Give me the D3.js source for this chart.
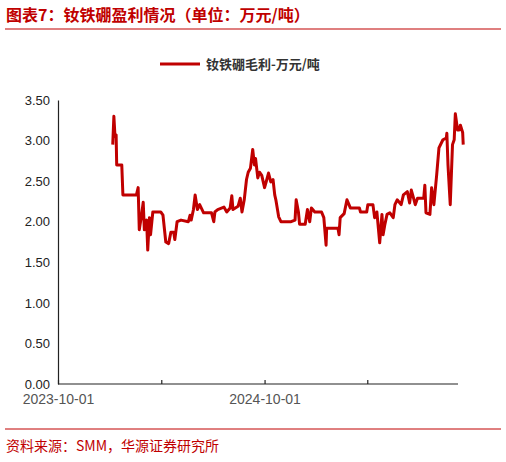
<!DOCTYPE html>
<html><head><meta charset="utf-8">
<script src="https://cdn.jsdelivr.net/npm/d3@7"></script>
<style>body{margin:0;background:#fff}svg{display:block}</style>
</head><body>
<svg id="c" width="506" height="462"></svg>
<script>
const startDate = "2023-10-01";
const dayOffsets = [97,99,101,103,104,113,115,139,142,144,148,151,153,157,159,162,164,168,182,186,191,196,200,205,207,211,218,231,234,236,240,243,247,251,258,272,276,278,283,294,299,305,308,310,319,323,326,330,334,337,341,345,348,350,354,357,361,366,370,373,377,381,384,386,391,395,399,413,420,422,426,428,438,442,446,449,455,467,471,475,476,496,498,500,507,512,518,534,536,547,549,558,561,565,570,574,576,579,583,588,594,597,601,608,612,619,623,626,630,633,637,648,650,652,659,662,666,671,675,682,688,689,691,695,699,702,704,708,711,713,717,718];
const values = [2.95,3.30,3.05,3.07,2.70,2.70,2.33,2.33,2.42,1.90,2.08,2.24,1.90,2.02,1.65,2.05,1.84,2.12,2.12,2.08,1.75,1.73,1.87,1.87,1.78,2.00,2.02,2.00,2.08,2.02,2.15,2.33,2.15,2.21,2.11,2.11,2.00,2.12,2.15,2.18,2.12,2.17,2.32,2.15,2.19,2.29,2.12,2.27,2.52,2.61,2.66,2.89,2.70,2.78,2.54,2.61,2.57,2.42,2.52,2.60,2.49,2.52,2.33,2.27,2.06,2.00,2.00,2.00,2.02,2.27,2.12,1.97,1.97,2.15,2.00,2.17,2.12,2.12,2.05,1.71,1.92,1.92,1.84,2.05,2.10,2.27,2.17,2.17,2.12,2.12,2.21,2.21,2.05,2.12,1.74,2.09,1.84,1.96,2.09,2.11,2.05,2.21,2.27,2.21,2.33,2.37,2.23,2.39,2.29,2.21,2.29,2.29,2.45,2.11,2.09,2.42,2.21,2.58,2.91,3.01,3.03,3.09,2.70,2.21,2.95,3.01,3.33,3.13,3.13,3.19,3.10,2.95];
const yTicks = [0,0.5,1,1.5,2,2.5,3,3.5];
const xTickDates = ["2023-10-01","2024-04-01","2024-10-01","2025-04-01"];
const xLabelDates = ["2023-10-01","2024-10-01"];
const seriesName = "钕铁硼毛利-万元/吨";
const titleText = "图表7：钕铁硼盈利情况（单位：万元/吨）";
const sourceText = "资料来源：SMM，华源证券研究所";

const red = "#c00000";
const svg = d3.select("#c");
const parse = d3.utcParse("%Y-%m-%d");
const t0 = parse(startDate);
const data = dayOffsets.map((d,i)=>({date:d3.utcDay.offset(t0,d), v:values[i]}));

const x = d3.scaleUtc().domain([t0, d3.utcDay.offset(t0,730)]).range([58,470]);
const y = d3.scaleLinear().domain([0,3.5]).range([384,100]);
const font = "'Liberation Sans', Arial, sans-serif";

svg.append("text").attr("x",6).attr("y",21).attr("fill",red)
  .attr("font-family","'Noto Sans CJK SC'").attr("font-weight","bold").attr("font-size",16).text(titleText);
svg.append("line").attr("x1",5).attr("x2",501).attr("y1",29).attr("y2",29).attr("stroke",red).attr("stroke-width",1.2);
svg.append("line").attr("x1",5).attr("x2",501).attr("y1",429).attr("y2",429).attr("stroke",red).attr("stroke-width",1);
svg.append("text").attr("x",6).attr("y",451).attr("fill",red)
  .attr("font-family","'Noto Sans CJK SC'").attr("font-size",14).text(sourceText);

svg.append("line").attr("x1",160).attr("x2",200).attr("y1",64).attr("y2",64).attr("stroke",red).attr("stroke-width",3);
svg.append("text").attr("x",206).attr("y",69).attr("fill","#333").attr("font-family","'Noto Sans CJK SC'")
  .attr("font-weight","bold").attr("font-size",13).text(seriesName);

const ya = svg.append("g").attr("transform","translate(58,0)")
  .call(d3.axisLeft(y).tickValues(yTicks).tickFormat(d3.format(".2f")).tickSize(0).tickPadding(8));
ya.select(".domain").attr("stroke","#222").attr("stroke-width",1.2);
ya.selectAll("text").attr("font-family",font).attr("font-size",13).attr("fill","#222");

const xa = svg.append("g").attr("transform","translate(0,384)")
  .call(d3.axisBottom(x).tickValues(xTickDates.map(parse)).tickSizeInner(-4).tickSizeOuter(0)
    .tickFormat(d=>xLabelDates.includes(d3.utcFormat("%Y-%m-%d")(d))?d3.utcFormat("%Y-%m-%d")(d):""));
xa.select(".domain").attr("stroke","#222").attr("stroke-width",1.2).attr("d","M58,0H458");
xa.selectAll(".tick line").attr("stroke","#222").attr("stroke-width",1.2);
xa.selectAll("text").attr("font-family",font).attr("font-size",14).attr("fill","#555").attr("dy","1.2em");

svg.append("path").datum(data).attr("fill","none").attr("stroke",red).attr("stroke-width",3)
  .attr("stroke-linejoin","round")
  .attr("d", d3.line().x(d=>x(d.date)).y(d=>y(d.v)));
</script>
</body></html>
